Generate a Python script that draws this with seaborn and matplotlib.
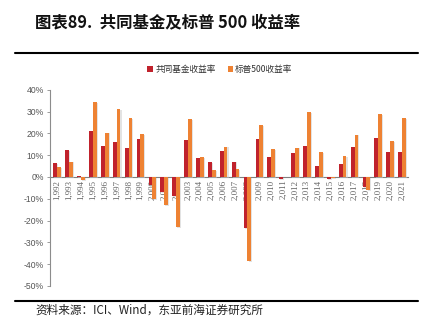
import numpy as np
import pandas as pd
import seaborn as sns
import matplotlib
matplotlib.use("Agg")
import matplotlib.pyplot as plt
import matplotlib.patheffects as pe
from matplotlib.patches import Patch
from matplotlib.lines import Line2D

years = list(range(1992, 2022))
year_labels = [f"{y:,}" for y in years]
fund_returns = [6.3, 12.2, 0.3, 20.9, 14.2, 16.2, 13.3, 17.6, -3.8, -7.0,
                -8.9, 16.9, 8.9, 6.9, 11.8, 7.0, -23.5, 17.3, 9.3, -0.9,
                10.8, 14.2, 5.2, -0.9, 6.1, 13.7, -4.6, 18.0, 11.5, 11.5]
sp500_returns = [4.6, 7.0, -1.5, 34.4, 20.3, 31.1, 26.9, 19.7, -10.1, -12.8,
                 -23.1, 26.4, 9.2, 3.0, 13.9, 3.7, -38.5, 23.7, 12.8, 0.0,
                 13.4, 29.6, 11.4, -0.7, 9.6, 19.4, -6.2, 28.9, 16.3, 26.9]
series_names = ["共同基金收益率", "标普500收益率"]
colors = ["#C0222C", "#EE8233"]
y_ticks = [40, 30, 20, 10, 0, -10, -20, -30, -40, -50]

df = pd.DataFrame({
    "year": year_labels * 2,
    "value": fund_returns + sp500_returns,
    "series": [series_names[0]] * len(years) + [series_names[1]] * len(years),
})

sns.set_style("white")
plt.rcParams["font.family"] = ["Noto Sans CJK SC", "DejaVu Sans"]

fig = plt.figure(figsize=(4.35, 3.29), dpi=100)
ax = fig.add_axes([0.115, 0.131, 0.823, 0.596])

sns.barplot(data=df, x="year", y="value", hue="series", palette=colors,
            width=0.64, ax=ax, legend=False, saturation=1)

for p in ax.patches:
    p.set_linewidth(0)
    p.set_path_effects([pe.SimplePatchShadow(offset=(0.8, -0.5), shadow_rgbFace="#c8c8c8", alpha=0.5),
                        pe.Normal()])

ax.set_ylim(-50, 40)
ax.set_xlim(-0.6, len(years) - 0.5)
ax.set_yticks(y_ticks)
ax.set_yticklabels([f"{v}%" for v in y_ticks], fontsize=6.2, color="#555555",
                   family=["Liberation Sans", "DejaVu Sans"])
ax.set_xlabel("")
ax.set_ylabel("")

for s in ["top", "right"]:
    ax.spines[s].set_visible(False)
ax.spines["left"].set_color("#8c8c8c")
ax.spines["left"].set_linewidth(0.8)
ax.spines["bottom"].set_position(("data", 0))
ax.spines["bottom"].set_color("#7f7f7f")
ax.spines["bottom"].set_linewidth(0.8)
ax.spines["bottom"].set_zorder(0.5)

ax.tick_params(axis="y", which="both", left=True, length=2.5, width=0.6, color="#8c8c8c", pad=2)
ax.tick_params(axis="x", which="both", bottom=False, length=0, pad=2)
ax.set_xticks(range(len(years)))
ax.set_xticklabels(year_labels, rotation=90, fontsize=6.5, color="#666666",
                   family=["Liberation Serif", "DejaVu Serif"])

# Title
fig.text(35 / 435, 1 - 22 / 329, "图表89.  共同基金及标普 500 收益率", fontsize=11.8,
         fontweight="bold", va="center", ha="left", color="#111111")

# Rules
fig.add_artist(Line2D([15 / 435, 418 / 435], [1 - 52.5 / 329] * 2, color="black", lw=1.5))
fig.add_artist(Line2D([15 / 435, 418 / 435], [1 - 300.5 / 329] * 2, color="black", lw=1.5))

# Legend
handles = [Patch(facecolor=c, edgecolor="none") for c in colors]
fig.legend(handles, series_names, loc="center", bbox_to_anchor=(220 / 435, 1 - 69.5 / 329),
           ncol=2, frameon=False, fontsize=6.2, handlelength=0.6, handleheight=0.6,
           handletextpad=0.3, columnspacing=1.4, labelcolor="#333333")

# Source
fig.text(35 / 435, 1 - 310 / 329, "资料来源：ICI、Wind，东亚前海证券研究所", fontsize=8.4,
         va="center", ha="left", color="#222222")

fig.savefig("out.png", dpi=100)
